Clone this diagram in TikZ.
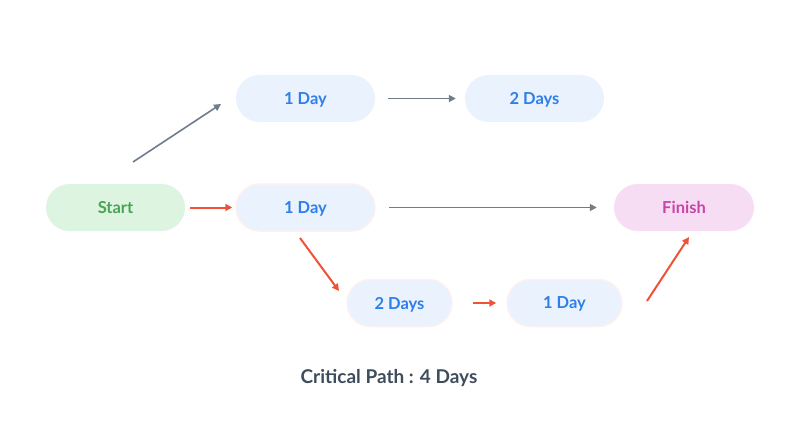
\documentclass[tikz,border=0pt]{standalone}
\usepackage{fontspec}
\setmainfont{Lato}
\usetikzlibrary{arrows.meta}
\definecolor{nodeblue}{HTML}{EAF2FD}
\definecolor{textblue}{HTML}{2F7FE8}
\definecolor{startfill}{HTML}{DDF4E0}
\definecolor{starttext}{HTML}{4AA452}
\definecolor{finfill}{HTML}{F7DDF4}
\definecolor{fintext}{HTML}{C944A8}
\definecolor{grayarrow}{HTML}{6E7C8C}
\definecolor{redarrow}{HTML}{EF5236}
\definecolor{glow}{HTML}{FDF1EF}
\definecolor{titletext}{HTML}{3E4C5B}
\begin{document}
\begin{tikzpicture}[x=1pt,y=-1pt,
  pill/.style={rounded corners=23.5pt, minimum height=47pt, inner sep=0pt, text depth=0pt, font=\fontsize{16.5}{19}\selectfont\bfseries},
  task/.style={pill, fill=nodeblue, text=textblue, minimum width=139pt},
  crit/.style={task, draw=glow, line width=1.5pt},
  garrow/.style={draw=grayarrow, line width=1.6pt, -{Triangle[length=7pt,width=7pt]}},
  rarrow/.style={draw=redarrow, line width=2pt, -{Triangle[length=7pt,width=7pt]}}]
\useasboundingbox (0,0) rectangle (800,425);
\node[pill, fill=startfill, text=starttext, minimum width=139pt] (start) at (115.5,207.5) {Start};
\node[task] (t1) at (305.5,98.5) {1 Day};
\node[task] (t2) at (534.5,98.5) {2 Days};
\node[crit] (m1) at (305.5,207.5) {1 Day};
\node[pill, fill=finfill, text=fintext, minimum width=140pt] (fin) at (684,207.5) {Finish};
\node[crit, minimum width=105pt] (b1) at (399.5,303) {2 Days};
\node[crit, minimum width=115pt] (b2) at (564.5,303) {1 Day};
\node[font=\fontsize{19}{22}\selectfont\bfseries, text=titletext] (cap) at (389,378) {Critical Path : 4 Days};
\coordinate (s1) at (133,162);
\coordinate (e1) at (221,104);
\draw[garrow] (s1) -- (e1);
\draw[garrow] ([xshift=13pt]t1.east) -- ([xshift=-9pt]t2.west);
\draw[rarrow] ([xshift=5pt]start.east) -- ([xshift=-3pt]m1.west);
\draw[garrow] ([xshift=13pt]m1.east) -- ([xshift=-17pt]fin.west);
\coordinate (s3) at (300,238);
\coordinate (e3) at (339,291);
\draw[rarrow] (s3) -- (e3);
\draw[rarrow] ([xshift=20pt]b1.east) -- ([xshift=-10pt]b2.west);
\coordinate (s4) at (647,301);
\coordinate (e4) at (689,237);
\draw[rarrow] (s4) -- (e4);
\end{tikzpicture}
\end{document}
